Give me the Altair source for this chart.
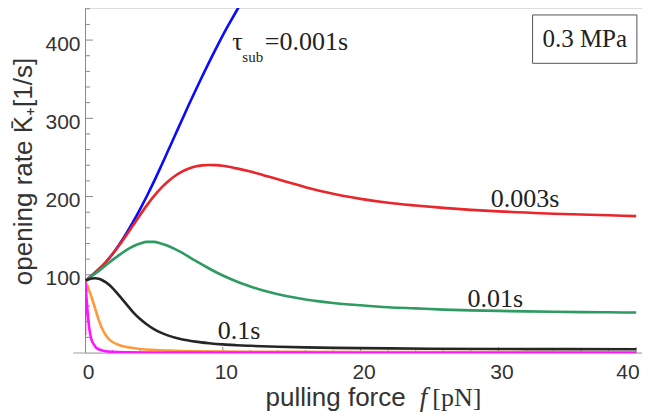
import altair as alt
import pandas as pd

# ---- data ----
blue_x = [0, 0.5, 1, 1.5, 2, 2.5, 3, 3.5, 4, 4.5, 5, 5.5, 6, 6.5, 7, 7.5, 8, 8.5, 9, 9.5, 10, 10.5, 11, 11.5, 12]
blue_y = [92, 99, 107, 116, 126.5, 139, 153, 168, 184, 201, 219, 238, 257.5, 277, 296.5, 316, 335, 353.5, 371.5, 389, 406, 422, 437.5, 452.5, 467]

red_x = [0, 0.5, 1, 1.5, 2, 2.5, 3, 3.5, 4, 4.5, 5, 5.5, 6, 6.5, 7, 7.5, 8, 8.5, 9, 9.5, 10, 11, 12, 13, 14, 15, 16, 17, 18, 19, 20, 22, 24, 26, 28, 30, 32, 34, 36, 38, 40]
red_y = [92, 99, 107, 116, 126.5, 138, 150.5, 163.5, 176.5, 189, 200.5, 210.5, 219, 226, 231.5, 235.5, 238.3, 239.8, 240.3, 240.2, 239.4, 236, 232, 227, 222, 217, 212, 207.5, 203.5, 200, 197, 192, 188.5, 185.5, 183, 181, 179.5, 178, 177, 176, 175]

green_x = [0, 0.5, 1, 1.5, 2, 2.5, 3, 3.5, 4, 4.5, 5, 5.5, 6, 6.5, 7, 8, 9, 10, 11, 12, 13, 14, 15, 16, 17, 18, 20, 22, 24, 26, 28, 30, 32, 34, 36, 38, 40]
green_y = [92, 98.5, 105, 112, 119, 125.5, 131.5, 136.5, 140, 142, 142, 140, 137, 133, 128.5, 118, 108, 99, 91.5, 85, 79.5, 75, 71.5, 68.5, 66, 64, 61, 58.5, 57, 55.5, 54.5, 53.8, 53.2, 52.7, 52.3, 52, 51.7]

black_x = [0, 0.25, 0.5, 0.75, 1, 1.25, 1.5, 2, 2.5, 3, 3.5, 4, 4.5, 5, 5.5, 6, 7, 8, 9, 10, 11, 12, 14, 16, 18, 20, 25, 30, 35, 40]
black_y = [92, 94, 95.3, 95.5, 94.8, 93, 90.5, 83, 73, 62.5, 52, 43.5, 36.5, 30.5, 26, 22.5, 17.5, 14.5, 12.5, 11, 10, 9.2, 8, 7.2, 6.6, 6.2, 5.5, 5.1, 4.9, 4.7]

orange_x = [0, 0.15, 0.3, 0.5, 0.75, 1, 1.25, 1.5, 1.75, 2, 2.5, 3, 3.5, 4, 5, 6, 7, 8, 10, 15, 20, 30, 40]
orange_y = [90, 87, 80, 70, 56, 42, 31, 23, 17.5, 14, 10, 7.8, 6.3, 5.2, 3.9, 3.1, 2.6, 2.3, 1.9, 1.5, 1.3, 1.1, 1.0]

magenta_x = [0, 0.02, 0.1, 0.2, 0.3, 0.4, 0.5, 0.64, 0.8, 1.0, 1.2, 1.5, 2, 3, 5, 10, 20, 40]
magenta_y = [23, 92, 72, 50, 33, 22, 15.5, 11, 7, 4.8, 3.4, 2.2, 1.5, 1.0, 0.7, 0.5, 0.4, 0.3]

series = [
    ("blue", blue_x, blue_y, "#0a0aff"),
    ("red", red_x, red_y, "#e8262b"),
    ("green", green_x, green_y, "#2f9a62"),
    ("black", black_x, black_y, "#262626"),
    ("orange", orange_x, orange_y, "#ff9a3c"),
    ("magenta", magenta_x, magenta_y, "#ff14ff"),
]

y_major = [100, 200, 300, 400]
y_minor = [v for v in range(20, 441, 20) if v not in y_major]
x_major = [10, 20, 30, 40]
x_minor = [v for v in range(2, 41, 2) if v not in x_major]
x_labels = [0, 10, 20, 30, 40]

# annotations
ann_text = ["0.003s", "0.01s", "0.1s", "τ", "=0.001s"]
ann_x = [29.45, 27.75, 9.64, 10.69, 13.05]
ann_y = [186.2, 59.2, 17.5, 387.3, 387.3]
sub_text = "sub"
sub_pos = (11.42, 372.0)
box_text = "0.3 MPa"
box_x = [32.48, 40.05]
box_y = [370.3, 432.1]

# x-axis title pieces (sans part, italic symbol, unit)
xt_text = ["pulling force", "f", "[pN]"]
xt_x = [13.1, 24.3, 25.2]
xt_y = -67.7

X_DOM = [0, 40.42]
Y_DOM = [0, 441]
xs = alt.Scale(domain=X_DOM, nice=False, zero=False)
ys = alt.Scale(domain=Y_DOM, nice=False, zero=False)

label_font = "Liberation Sans"
serif = "Liberation Serif"
axis_grey = "#8a8a8a"
text_col = "#333333"

dummy = pd.DataFrame({"a": [0]})

base = alt.Chart(dummy).mark_point(opacity=0).encode(
    x=alt.X("xx:Q", scale=xs, axis=alt.Axis(
        values=x_labels, domain=False, ticks=False, grid=False,
        labelFont=label_font, labelFontSize=21, labelColor=text_col,
        labelPadding=25, labelOffset=3, labelBaseline="alphabetic",
        labelAlign={"condition": {"test": "datum.value == 40", "value": "right"}, "value": "center"},
        title="")),
    y=alt.Y("yy:Q", scale=ys, axis=alt.Axis(
        values=y_major, domain=True, domainColor=axis_grey, domainWidth=1,
        ticks=False, grid=False,
        labelFont=label_font, labelFontSize=21, labelColor=text_col,
        labelPadding=5, labelOffset=4,
        title="opening rate K̄₊[1/s]", titleFont=label_font, titleFontSize=26,
        titleFontWeight="normal", titleColor=text_col, titlePadding=8, titleY=163)),
).transform_calculate(xx="-100", yy="-100")

layers = [base]

# x axis line
layers.append(alt.Chart(dummy).mark_rule(color="#a0a0a0", strokeWidth=1.2).encode(
    x=alt.datum(-0.85, scale=xs), x2=alt.datum(40.42), y=alt.datum(0, scale=ys)))

# inward ticks
layers.append(alt.Chart(pd.DataFrame({"v": y_minor})).mark_rule(
    color=axis_grey, x2Offset=5).encode(
    y=alt.Y("v:Q", scale=ys), x=alt.datum(0, scale=xs), x2=alt.datum(0)))
layers.append(alt.Chart(pd.DataFrame({"v": y_major})).mark_rule(
    color=axis_grey, x2Offset=8).encode(
    y=alt.Y("v:Q", scale=ys), x=alt.datum(0, scale=xs), x2=alt.datum(0)))
layers.append(alt.Chart(pd.DataFrame({"v": x_minor})).mark_rule(
    color=axis_grey, y2Offset=-3).encode(
    x=alt.X("v:Q", scale=xs), y=alt.datum(0, scale=ys), y2=alt.datum(0)))
layers.append(alt.Chart(pd.DataFrame({"v": x_major})).mark_rule(
    color=axis_grey, y2Offset=-6).encode(
    x=alt.X("v:Q", scale=xs), y=alt.datum(0, scale=ys), y2=alt.datum(0)))

# curves
for name, xv, yv, col in series:
    df = pd.DataFrame({"f": xv, "k": yv})
    layers.append(alt.Chart(df).mark_line(
        color=col, strokeWidth=2.6, interpolate="monotone", clip=True).encode(
        x=alt.X("f:Q", scale=xs), y=alt.Y("k:Q", scale=ys), order="f:Q"))

# box
layers.append(alt.Chart(dummy).mark_rect(fill="white", stroke="#555", strokeWidth=1).encode(
    x=alt.datum(box_x[0], scale=xs), x2=alt.datum(box_x[1]),
    y=alt.datum(box_y[0], scale=ys), y2=alt.datum(box_y[1])))
layers.append(alt.Chart(pd.DataFrame({"t": [box_text]})).mark_text(
    font=serif, fontSize=25, color="#222", align="center", baseline="middle").encode(
    x=alt.datum((box_x[0] + box_x[1]) / 2, scale=xs),
    y=alt.datum((box_y[0] + box_y[1]) / 2, scale=ys), text="t:N"))

ann_df = pd.DataFrame({"t": ann_text, "x": ann_x, "y": ann_y})
layers.append(alt.Chart(ann_df).mark_text(
    font=serif, fontSize=26, color="#222", align="left", baseline="alphabetic").encode(
    x=alt.X("x:Q", scale=xs), y=alt.Y("y:Q", scale=ys), text="t:N"))
layers.append(alt.Chart(pd.DataFrame({"t": [sub_text], "x": [sub_pos[0]], "y": [sub_pos[1]]})).mark_text(
    font=serif, fontSize=15, color="#222", align="left", baseline="alphabetic").encode(
    x=alt.X("x:Q", scale=xs), y=alt.Y("y:Q", scale=ys), text="t:N"))

# x-axis title built from pieces
layers.append(alt.Chart(pd.DataFrame({"t": [xt_text[0]], "x": [xt_x[0]], "y": [xt_y]})).mark_text(
    font=label_font, fontSize=26, color=text_col, align="left", baseline="alphabetic").encode(
    x=alt.X("x:Q", scale=xs), y=alt.Y("y:Q", scale=ys), text="t:N"))
layers.append(alt.Chart(pd.DataFrame({"t": [xt_text[1]], "x": [xt_x[1]], "y": [xt_y]})).mark_text(
    font=serif, fontSize=27, fontStyle="italic", color=text_col, align="left", baseline="alphabetic").encode(
    x=alt.X("x:Q", scale=xs), y=alt.Y("y:Q", scale=ys), text="t:N"))
layers.append(alt.Chart(pd.DataFrame({"t": [xt_text[2]], "x": [xt_x[2]], "y": [xt_y]})).mark_text(
    font=serif, fontSize=26, color=text_col, align="left", baseline="alphabetic").encode(
    x=alt.X("x:Q", scale=xs), y=alt.Y("y:Q", scale=ys), text="t:N"))

chart = alt.layer(*layers).properties(
    width=557, height=345,
    padding={"left": 77, "top": 0, "right": 0, "bottom": 59},
    autosize=alt.AutoSizeParams(type="none"),
).configure_view(stroke=None).configure(background="white")

chart.save("out.html", embed_options={"renderer": "svg", "actions": False})
